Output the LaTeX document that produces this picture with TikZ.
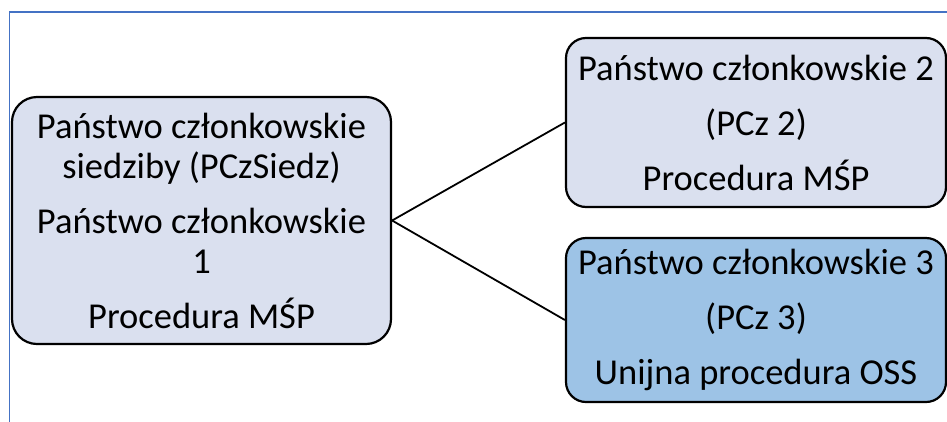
\documentclass[tikz,border=0pt]{standalone}
\usepackage{fontspec}
\setmainfont{Carlito}
\definecolor{paleblue}{HTML}{DAE0EF}
\definecolor{midblue}{HTML}{9DC3E6}
\definecolor{frameblue}{HTML}{4472C4}
\begin{document}
\begin{tikzpicture}[x=1pt,y=-1pt,
  box/.style={draw=black, line width=2.2pt, rounded corners=#1, fill=paleblue,
    inner sep=0pt, align=center, font=\fontsize{36.5}{40}\selectfont},
  box/.default=22pt,
  link/.style={draw=black, line width=1.8pt}]
  \useasboundingbox (0,0) rectangle (947,421);
  \fill[white] (0,0) rectangle (947,421);
  \begin{scope}
    \clip (0,0) rectangle (947,421);
    % outer frame, cut off at the right and lower edges
    \draw[frameblue, line width=1.8pt] (9.5,12) rectangle (980,450);
    % member-state boxes
    \node[box=25pt, minimum width=379pt, minimum height=247pt] (home) at (201.5,220.5)
      {Państwo członkowskie\\siedziby (PCzSiedz)\\[15pt]Państwo członkowskie\\1\\[15pt]Procedura MŚP};
    \node[box=20pt, minimum width=380pt, minimum height=169pt] (ms2) at (756,122.5)
      {Państwo członkowskie 2\\[15pt](PCz 2)\\[15pt]Procedura MŚP};
    \node[box=20pt, fill=midblue, minimum width=380pt, minimum height=164pt] (ms3) at (756,320)
      {Państwo członkowskie 3\\[15pt](PCz 3)\\[15pt]Unijna procedura OSS};
    % connectors
    \draw[link] (home.east) -- (ms2.west);
    \draw[link] (home.east) -- (ms3.west);
  \end{scope}
\end{tikzpicture}
\end{document}
